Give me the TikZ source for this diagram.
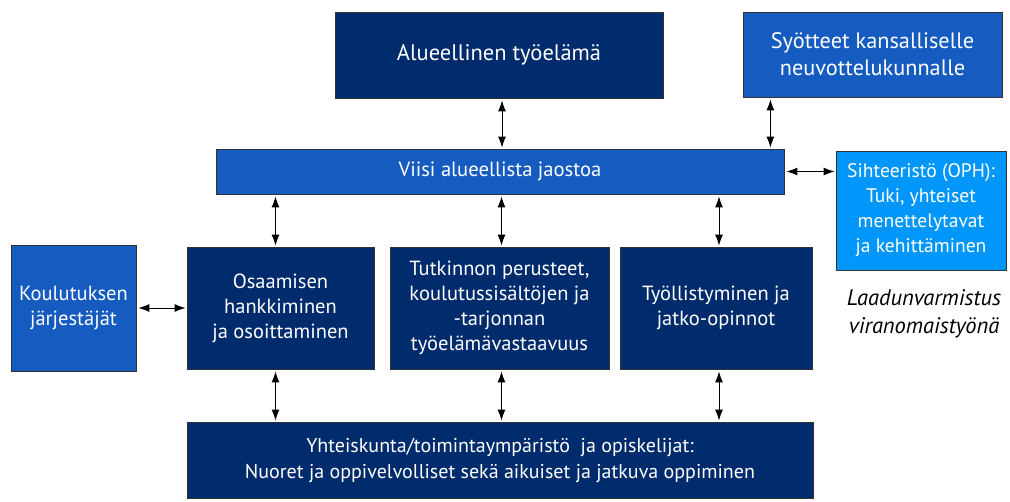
\documentclass[tikz,border=0pt]{standalone}
\usepackage{fontspec}
\setmainfont{PT Sans}
\usetikzlibrary{arrows.meta}
\definecolor{navy}{RGB}{0,43,108}
\definecolor{midblue}{RGB}{21,91,192}
\definecolor{lightblue}{RGB}{0,150,250}
\tikzset{
  box/.style={draw=black!80, line width=0.8pt, text=white, align=center, inner sep=0pt, font=\fontsize{20.5}{25}\selectfont},
  navybox/.style={box, fill=navy},
  midbox/.style={box, fill=midblue},
  lightbox/.style={box, fill=lightblue},
  arr/.style={{Latex[length=11pt,width=8pt]}-{Latex[length=11pt,width=8pt]}, line width=1pt, shorten <=2pt, shorten >=1pt}
}
\begin{document}
\begin{tikzpicture}[x=1pt,y=-1pt]
\useasboundingbox (0,0) rectangle (1010,501);
\node[navybox, minimum width=328pt, minimum height=86pt, font=\fontsize{22.5}{27}\selectfont] (alue) at (499,55) {Alueellinen työelämä};
\node[midbox, minimum width=259pt, minimum height=85pt, font=\fontsize{22.3}{27}\selectfont] (syot) at (872.5,54.5) {Syötteet kansalliselle\\neuvottelukunnalle};
\node[midbox, minimum width=568pt, minimum height=45pt, font=\fontsize{20.6}{25}\selectfont] (viisi) at (500,171.5) {Viisi alueellista jaostoa};
\node[lightbox, minimum width=170pt, minimum height=119pt, font=\fontsize{19.6}{25}\selectfont] (siht) at (921,210.5) {Sihteeristö (OPH):\\Tuki, yhteiset\\menettelytavat\\ja kehittäminen};
\node[midbox, minimum width=125pt, minimum height=126pt] (koul) at (73.5,308) {Koulutuksen\\järjestäjät};
\node[navybox, minimum width=187pt, minimum height=122pt] (osaa) at (280.5,308) {Osaamisen\\hankkiminen\\ja osoittaminen};
\node[navybox, minimum width=219pt, minimum height=122pt] (tutk) at (499.5,308) {Tutkinnon perusteet,\\koulutussisältöjen ja\\-tarjonnan\\työelämävastaavuus};
\node[navybox, minimum width=192pt, minimum height=122pt] (tyol) at (716,308) {Työllistyminen ja\\jatko-opinnot};
\node[navybox, minimum width=626pt, minimum height=76pt, font=\fontsize{20}{26}\selectfont] (yht) at (500,460) {Yhteiskunta/toimintaympäristö\ \ ja opiskelijat:\\Nuoret ja oppivelvolliset sekä aikuiset ja jatkuva oppiminen};
\node[align=center, font=\fontsize{22.5}{28}\selectfont\itshape] (laatu) at (924,314) {Laadunvarmistus\\viranomaistyönä};
\draw[arr] ([xshift=3pt]alue.south) -- ([xshift=3pt]alue.south |- viisi.north);
\draw[arr] ([xshift=-14pt]viisi.north east |- syot.south) -- ([xshift=-14pt]viisi.north east);
\draw[arr] (viisi.east) -- (viisi.east -| siht.west);
\draw[arr] ([xshift=-5pt]osaa.north |- viisi.south) -- ([xshift=-5pt]osaa.north);
\draw[arr] ([xshift=2pt]tutk.north |- viisi.south) -- ([xshift=2pt]tutk.north);
\draw[arr] ([xshift=3pt]tyol.north |- viisi.south) -- ([xshift=3pt]tyol.north);
\draw[arr] (koul.east |- osaa.west) -- (osaa.west);
\draw[arr] ([xshift=-5pt]osaa.south) -- ([xshift=-5pt]osaa.south |- yht.north);
\draw[arr] ([xshift=2pt]tutk.south) -- ([xshift=2pt]tutk.south |- yht.north);
\draw[arr] ([xshift=3pt]tyol.south) -- ([xshift=3pt]tyol.south |- yht.north);
\end{tikzpicture}
\end{document}
